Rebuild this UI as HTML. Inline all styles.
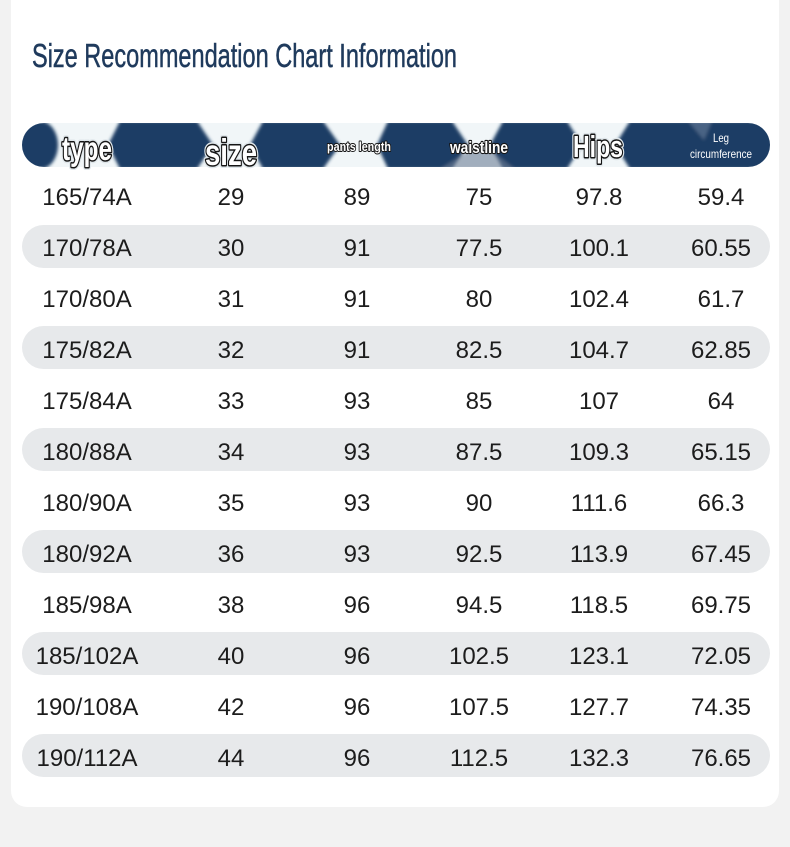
<!DOCTYPE html>
<html>
<head>
<meta charset="utf-8">
<style>
  html,body{margin:0;padding:0;background:#f2f2f2;}
  svg{display:block;}
  .row{font-family:"Liberation Sans",sans-serif;font-size:24px;fill:#1c1c1c;text-anchor:middle;}
  .hd{font-family:"Liberation Sans",sans-serif;font-weight:bold;text-anchor:middle;}
</style>
</head>
<body>
<svg width="790" height="847" viewBox="0 0 790 847" xmlns="http://www.w3.org/2000/svg">
  <defs>
    <clipPath id="barclip"><rect x="22" y="123" width="748" height="44" rx="22" ry="22"/></clipPath>
    <filter id="blur" x="-5%" y="-20%" width="110%" height="140%"><feGaussianBlur stdDeviation="1.6"/></filter>
  </defs>
  <rect x="0" y="0" width="790" height="847" fill="#f2f2f2"/>
  <rect x="11" y="-20" width="768" height="827" rx="16" ry="16" fill="#ffffff"/>

  <text x="32" y="67" font-family="Liberation Sans, sans-serif" font-size="33" fill="#1f3a5c" stroke="#1f3a5c" stroke-width="0.5" textLength="425" lengthAdjust="spacingAndGlyphs">Size Recommendation Chart Information</text>

  <!-- header bar -->
  <g clip-path="url(#barclip)">
    <rect x="22" y="123" width="748" height="44" fill="#f1f6f8"/>
    <g filter="url(#blur)" fill="#1f3e65">
      <rect x="16" y="121" width="42" height="48" rx="18" ry="24"/>
      <polygon points="108,145 120,121 197,121 213,145 197,169 120,169"/>
      <polygon points="250,145 263,121 323,121 340,145 323,169 263,169"/>
      <polygon points="377,145 388,121 452,121 468,145 452,169 388,169"/>
      <polygon points="490,145 503,121 567,121 582,145 567,169 503,169"/>
      <polygon points="615,145 630,121 780,121 780,169 630,169"/>
      <polygon points="440,169 470,150 490,150 515,169" fill="#6d7f95" opacity="0.6"/>
      <polygon points="688,121 712,121 704,140" fill="#5d7392" opacity="0.7"/>
    </g>
  </g>

  <!-- header labels -->
  <g class="hd">
    <text x="87" y="160" font-size="33" textLength="50" lengthAdjust="spacingAndGlyphs" fill="none" stroke="#dfe6ea" stroke-width="6" stroke-linejoin="round">type</text>
    <text x="87" y="160" font-size="33" textLength="50" lengthAdjust="spacingAndGlyphs" fill="#ffffff" stroke="#151515" stroke-width="3" paint-order="stroke" stroke-linejoin="round">type</text>

    <text x="231" y="165" font-size="37" textLength="52" lengthAdjust="spacingAndGlyphs" fill="none" stroke="#dfe6ea" stroke-width="6" stroke-linejoin="round">size</text>
    <text x="231" y="165" font-size="37" textLength="52" lengthAdjust="spacingAndGlyphs" fill="#ffffff" stroke="#151515" stroke-width="3" paint-order="stroke" stroke-linejoin="round">size</text>

    <text x="359" y="151" font-size="13" textLength="64" lengthAdjust="spacingAndGlyphs" fill="#ffffff" stroke="#151515" stroke-width="2" paint-order="stroke" stroke-linejoin="round">pants length</text>

    <text x="479" y="153" font-size="17" textLength="58" lengthAdjust="spacingAndGlyphs" fill="#ffffff" stroke="#151515" stroke-width="2.2" paint-order="stroke" stroke-linejoin="round">waistline</text>

    <text x="598" y="157" font-size="31" textLength="50" lengthAdjust="spacingAndGlyphs" fill="none" stroke="#dfe6ea" stroke-width="6" stroke-linejoin="round">Hips</text>
    <text x="598" y="157" font-size="31" textLength="50" lengthAdjust="spacingAndGlyphs" fill="#ffffff" stroke="#151515" stroke-width="3" paint-order="stroke" stroke-linejoin="round">Hips</text>

    <text x="721" y="142" font-size="12" font-weight="normal" textLength="16" lengthAdjust="spacingAndGlyphs" fill="#ffffff">Leg</text>
    <text x="721" y="158" font-size="12" font-weight="normal" textLength="62" lengthAdjust="spacingAndGlyphs" fill="#ffffff">circumference</text>
  </g>

  <!-- striped pills -->
  <g fill="#e7e9eb">
    <rect x="22" y="225" width="748" height="43" rx="21.5"/>
    <rect x="22" y="326" width="748" height="43" rx="21.5"/>
    <rect x="22" y="428" width="748" height="43" rx="21.5"/>
    <rect x="22" y="530" width="748" height="43" rx="21.5"/>
    <rect x="22" y="632" width="748" height="43" rx="21.5"/>
    <rect x="22" y="734" width="748" height="43" rx="21.5"/>
  </g>

  <g class="row">
    <text x="87" y="205">165/74A</text><text x="231" y="205">29</text><text x="357" y="205">89</text><text x="479" y="205">75</text><text x="599" y="205">97.8</text><text x="721" y="205">59.4</text>
    <text x="87" y="256">170/78A</text><text x="231" y="256">30</text><text x="357" y="256">91</text><text x="479" y="256">77.5</text><text x="599" y="256">100.1</text><text x="721" y="256">60.55</text>
    <text x="87" y="307">170/80A</text><text x="231" y="307">31</text><text x="357" y="307">91</text><text x="479" y="307">80</text><text x="599" y="307">102.4</text><text x="721" y="307">61.7</text>
    <text x="87" y="358">175/82A</text><text x="231" y="358">32</text><text x="357" y="358">91</text><text x="479" y="358">82.5</text><text x="599" y="358">104.7</text><text x="721" y="358">62.85</text>
    <text x="87" y="409">175/84A</text><text x="231" y="409">33</text><text x="357" y="409">93</text><text x="479" y="409">85</text><text x="599" y="409">107</text><text x="721" y="409">64</text>
    <text x="87" y="460">180/88A</text><text x="231" y="460">34</text><text x="357" y="460">93</text><text x="479" y="460">87.5</text><text x="599" y="460">109.3</text><text x="721" y="460">65.15</text>
    <text x="87" y="511">180/90A</text><text x="231" y="511">35</text><text x="357" y="511">93</text><text x="479" y="511">90</text><text x="599" y="511">111.6</text><text x="721" y="511">66.3</text>
    <text x="87" y="562">180/92A</text><text x="231" y="562">36</text><text x="357" y="562">93</text><text x="479" y="562">92.5</text><text x="599" y="562">113.9</text><text x="721" y="562">67.45</text>
    <text x="87" y="613">185/98A</text><text x="231" y="613">38</text><text x="357" y="613">96</text><text x="479" y="613">94.5</text><text x="599" y="613">118.5</text><text x="721" y="613">69.75</text>
    <text x="87" y="664">185/102A</text><text x="231" y="664">40</text><text x="357" y="664">96</text><text x="479" y="664">102.5</text><text x="599" y="664">123.1</text><text x="721" y="664">72.05</text>
    <text x="87" y="715">190/108A</text><text x="231" y="715">42</text><text x="357" y="715">96</text><text x="479" y="715">107.5</text><text x="599" y="715">127.7</text><text x="721" y="715">74.35</text>
    <text x="87" y="766">190/112A</text><text x="231" y="766">44</text><text x="357" y="766">96</text><text x="479" y="766">112.5</text><text x="599" y="766">132.3</text><text x="721" y="766">76.65</text>
  </g>
</svg>
</body>
</html>
